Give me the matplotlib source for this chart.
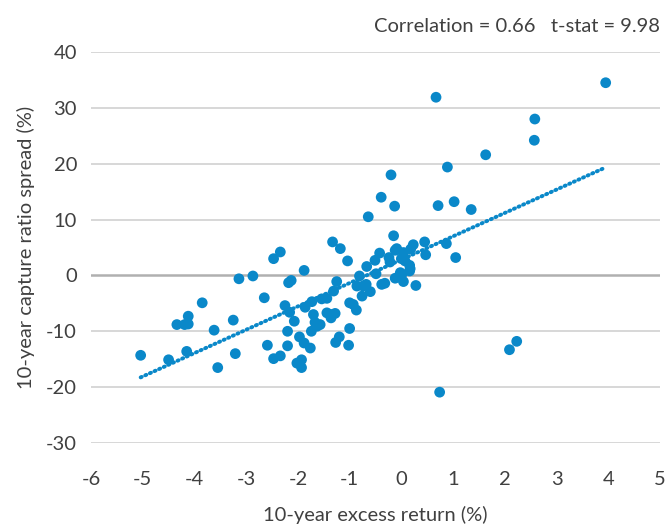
import numpy as np
import matplotlib
matplotlib.use("Agg")
import matplotlib.pyplot as plt

# 10-year excess return (%) and 10-year capture ratio spread (%)
EXCESS = [
    3.95, 0.67, 2.58, 2.57, 1.63, 0.89, -0.20, -0.39, -0.13, 0.71,
    1.02, 1.35, -0.64, -0.15, 0.45, 0.87, 0.23, 0.18, -0.09, -0.12,
    -0.42, -0.51, -0.24, 0.00, 0.04, 0.47, 1.05, 0.16, -0.22, -0.67,
    0.07, 0.17, 0.16, 0.01, -0.02, -0.49, -0.81, -0.12, 0.04, 0.28,
    -0.38, -0.32, -0.68, -0.74, -0.86, -0.60, -0.76, -1.04, -1.18, -1.33,
    -1.25, -1.31, -1.44, -1.54, -1.73, -1.86, -1.00, -0.93, -0.87, -1.44,
    -1.35, -1.28, -1.36, -1.57, -1.00, -1.20, -1.27, -1.02, -1.70, -1.67,
    -1.63, -1.74, -1.97, -1.88, -1.76, -2.20, -2.20, -2.02, -1.93, -1.93,
    -2.07, -2.16, -2.25, -2.18, -2.13, -1.88, -2.34, -2.47, -2.65, -2.59,
    -2.47, -2.34, -2.87, -3.14, -3.25, -3.21, -3.55, -3.62, -3.85, -4.12,
    -4.12, -4.19, -4.34, -4.15, -4.50, -5.04, 0.74, 2.09, 2.23,
]
SPREAD = [
    34.5, 31.9, 28.0, 24.2, 21.6, 19.4, 18.0, 14.0, 12.4, 12.5,
    13.2, 11.8, 10.5, 7.1, 6.0, 5.7, 5.5, 4.7, 4.8, 4.5,
    4.0, 2.7, 3.2, 3.0, 4.1, 3.7, 3.2, 1.8, 2.4, 1.6,
    2.6, 1.2, 0.8, 0.2, 0.5, 0.3, -0.1, -0.5, -1.1, -1.8,
    -1.6, -1.4, -1.6, -1.9, -1.9, -2.9, -3.7, 2.6, 4.8, 6.0,
    -1.1, -2.8, -4.1, -4.2, -4.7, -5.7, -4.9, -5.2, -6.2, -6.7,
    -7.0, -6.8, -7.6, -8.8, -9.5, -11.0, -12.0, -12.5, -7.0, -8.4,
    -9.1, -10.0, -11.0, -12.1, -13.0, -10.0, -12.6, -15.7, -15.1, -16.5,
    -8.2, -6.6, -5.4, -1.3, -0.9, 0.9, 4.2, 3.0, -4.0, -12.5,
    -14.9, -14.4, -0.1, -0.6, -8.0, -14.0, -16.5, -9.8, -4.9, -7.3,
    -8.7, -8.8, -8.8, -13.6, -15.1, -14.3, -20.9, -13.3, -11.8,
]

X_TICKS = list(range(-6, 6))
Y_TICKS = list(range(-30, 41, 10))
STATS = "Correlation = 0.66   t-stat = 9.98"

BLUE = "#0A88C9"
TEXT = "#404040"

plt.rcParams['font.family'] = ['Lato', 'DejaVu Sans']
plt.rcParams['axes.unicode_minus'] = False

fig = plt.figure(figsize=(6.68, 5.31), dpi=100)
ax = fig.add_axes([91 / 668, 88 / 531, 569 / 668, 391 / 531])

x = np.array(EXCESS)
y = np.array(SPREAD)

# linear trendline over the range of the data
slope, icpt = np.polyfit(x, y, 1)
tx = np.linspace(x.min(), x.max(), 2)
ax.plot(tx, slope * tx + icpt, color=BLUE, lw=2.8, ls=(0, (0.3, 1.0)),
        dash_capstyle='round', zorder=3)

ax.scatter(x, y, s=60, color=BLUE, edgecolors='none', zorder=4)

ax.set_xlim(-6, 5)
ax.set_ylim(-30, 40)
ax.set_xticks(X_TICKS)
ax.set_yticks(Y_TICKS)

for v in Y_TICKS:
    if v == 0:
        ax.axhline(v, color="#B0B0B0", lw=1.8, zorder=1)
    else:
        ax.axhline(v, color="#D4D4D4", lw=1.3, zorder=1)

for s in ax.spines.values():
    s.set_visible(False)
ax.tick_params(length=0, labelsize=14.5, colors=TEXT)
ax.tick_params(axis='x', pad=20)
ax.tick_params(axis='y', pad=10)

ax.set_xlabel("10-year excess return (%)", fontsize=14.5, color=TEXT, labelpad=13)
ax.set_ylabel("10-year capture ratio spread (%)", fontsize=14.5, color=TEXT, labelpad=8)

fig.text(660 / 668, 1 - 26 / 531, STATS, ha='right', va='center',
         fontsize=14.5, color=TEXT)

fig.savefig("out.png", dpi=100)
